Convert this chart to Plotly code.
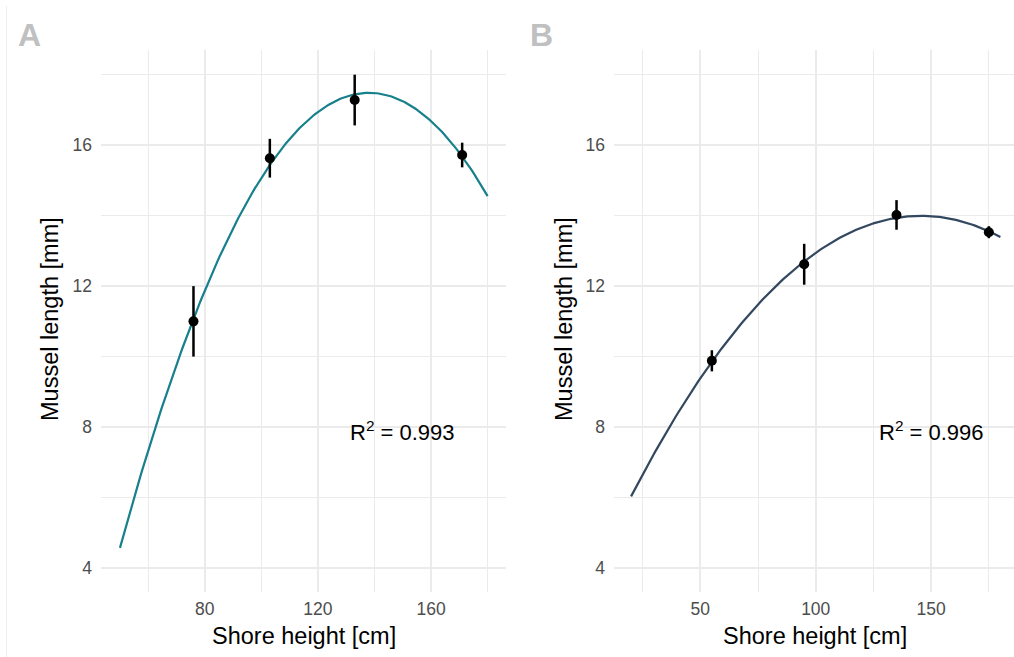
import numpy as np
import plotly.graph_objects as go

# ---- data ----
heights_A = [76, 103, 133, 171]
length_A = [11.0, 15.63, 17.28, 15.72]
err_hi_A = [1.0, 0.55, 0.72, 0.35]
err_lo_A = [1.0, 0.55, 0.72, 0.35]
fit_range_A = [50, 180]
r2_A = "0.993"

heights_B = [55, 95, 135, 175]
length_B = [9.88, 12.62, 14.02, 13.53]
err_hi_B = [0.30, 0.58, 0.42, 0.17]
err_lo_B = [0.30, 0.58, 0.42, 0.17]
fit_range_B = [20, 180]
r2_B = "0.996"

panel_labels = ["A", "B"]
x_title = "Shore height [cm]"
y_title = "Mussel length [mm]"

col_A = "#17808c"
col_B = "#33475f"

FONT = "Liberation Sans, Arial, Helvetica, sans-serif"
W, H = 1014, 657

def px_x(p):
    return p / W

def px_y(p):
    return 1 - p / H

fig = go.Figure()

def add_panel(xs, ys, ehi, elo, frange, color, xa, ya):
    coef = np.polyfit(xs, ys, 2)
    xf = np.linspace(frange[0], frange[1], 200)
    yf = np.polyval(coef, xf)
    fig.add_trace(go.Scatter(x=xf, y=yf, mode="lines", xaxis=xa, yaxis=ya,
                             line=dict(color=color, width=2.2), showlegend=False,
                             hoverinfo="skip"))
    fig.add_trace(go.Scatter(x=xs, y=ys, mode="markers", xaxis=xa, yaxis=ya,
                             marker=dict(color="black", size=10),
                             error_y=dict(type="data", symmetric=False, array=ehi,
                                          arrayminus=elo, color="black",
                                          thickness=2.5, width=0),
                             showlegend=False))

add_panel(heights_A, length_A, err_hi_A, err_lo_A, fit_range_A, col_A, "x", "y")
add_panel(heights_B, length_B, err_hi_B, err_lo_B, fit_range_B, col_B, "x2", "y2")

grid = "#ebebeb"
tickfont = dict(family=FONT, size=17.5, color="#4d4d4d")
ydom = [px_y(592), px_y(50)]

common_y = dict(range=[3.32, 18.7], tick0=0, dtick=4, showgrid=True, gridcolor=grid,
                gridwidth=2, zeroline=False, showline=False, ticks="",
                tickfont=tickfont, ticklabelstandoff=8,
                minor=dict(dtick=2, tick0=0, showgrid=True, gridcolor=grid, gridwidth=1),
                domain=ydom)

fig.update_layout(
    width=W, height=H,
    margin=dict(l=0, r=0, t=0, b=0),
    paper_bgcolor="white", plot_bgcolor="white",
    font=dict(family=FONT),
    xaxis=dict(domain=[px_x(101), px_x(506)], range=[43.3, 186.5], tick0=0, dtick=40,
               showgrid=True, gridcolor=grid, gridwidth=2, zeroline=False, showline=False,
               ticks="", tickfont=tickfont, ticklabelstandoff=4, anchor="y",
               minor=dict(dtick=20, tick0=0, showgrid=True, gridcolor=grid, gridwidth=1)),
    yaxis=dict(anchor="x", **common_y),
    xaxis2=dict(domain=[px_x(614), 1.0], range=[12.6, 185.9], tick0=0, dtick=50,
                showgrid=True, gridcolor=grid, gridwidth=2, zeroline=False, showline=False,
                ticks="", tickfont=tickfont, ticklabelstandoff=4, anchor="y2",
                minor=dict(dtick=25, tick0=0, showgrid=True, gridcolor=grid, gridwidth=1)),
    yaxis2=dict(anchor="x2", **common_y),
)

ann = []
# panel labels
ann.append(dict(x=px_x(16), y=px_y(35), xref="paper", yref="paper", text="<b>%s</b>" % panel_labels[0],
                showarrow=False, xanchor="left", yanchor="middle",
                font=dict(family=FONT, size=32, color="#c0c0c0")))
ann.append(dict(x=px_x(528), y=px_y(35), xref="paper", yref="paper", text="<b>%s</b>" % panel_labels[1],
                showarrow=False, xanchor="left", yanchor="middle",
                font=dict(family=FONT, size=32, color="#c0c0c0")))
# axis titles
for cx in [303.5, 815]:
    ann.append(dict(x=px_x(cx), y=px_y(636), xref="paper", yref="paper", text=x_title,
                    showarrow=False, xanchor="center", yanchor="middle",
                    font=dict(family=FONT, size=23.5, color="black")))
for cx in [50, 564]:
    ann.append(dict(x=px_x(cx), y=px_y(319), xref="paper", yref="paper", text=y_title,
                    showarrow=False, xanchor="center", yanchor="middle", textangle=-90,
                    font=dict(family=FONT, size=23.5, color="black")))
# R^2
ann.append(dict(x=150, y=7.9, xref="x", yref="y", text="R<sup>2</sup> = " + r2_A,
                showarrow=False, xanchor="center", yanchor="middle",
                font=dict(family=FONT, size=22, color="black")))
ann.append(dict(x=150, y=7.9, xref="x2", yref="y2", text="R<sup>2</sup> = " + r2_B,
                showarrow=False, xanchor="center", yanchor="middle",
                font=dict(family=FONT, size=22, color="black")))
fig.update_layout(annotations=ann)

fig.add_shape(type="line", xref="paper", yref="paper", x0=px_x(6.5), x1=px_x(6.5),
              y0=px_y(6), y1=0, line=dict(color="#eeeeee", width=1))

fig.write_html("out.html")
